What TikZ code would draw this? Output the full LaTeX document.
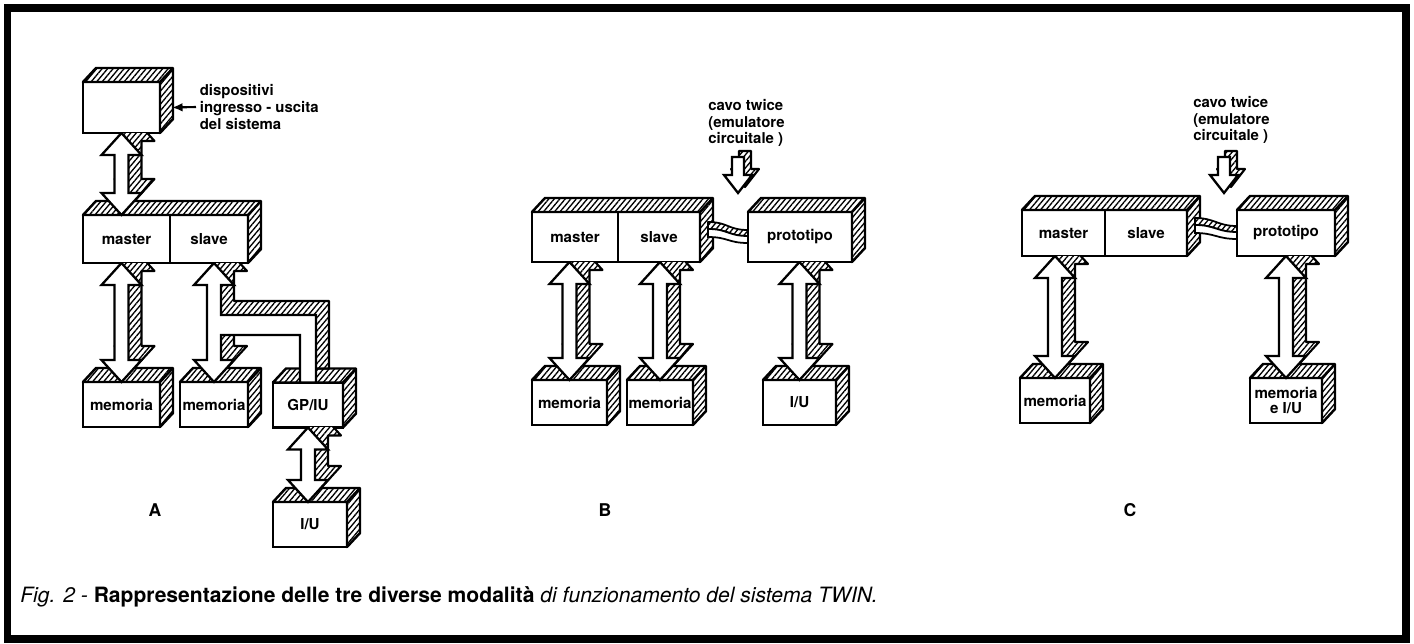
\documentclass[tikz,border=0pt]{standalone}
\usepackage{fontspec}
\setmainfont{TeX Gyre Heros}
\usepackage{tikz}
\usetikzlibrary{positioning,calc,arrows.meta,patterns.meta}

\newcommand{\boxfont}{\fontsize{8.6}{10}\selectfont\bfseries}
\newcommand{\notefont}{\fontsize{8.5}{9.6}\selectfont\bfseries}

% hollow double arrow with hatched depth, top tip #1, bottom tip #2
\newcommand{\bigarrow}[2]{%
  \begin{scope}
    \clip ($(#1)+(-40,0)$) rectangle ($(#2)+(45,10)$);
    \filldraw[hatch] ($(#1)+(13,-14)$) -- ++(20,22) -- ++(-13,0) -- ($(#2)+(20,-36)$) -- ++(13,0) -- ($(#2)+(13,-14)$) -- ++(-20,-22) -- ++(13,0) -- ($(#1)+(6,8)$) -- ++(-13,0) -- cycle;
    \filldraw[hollow] (#1) -- ++(20,22) -- ++(-13,0) -- ($(#2)+(7,-22)$) -- ++(13,0) -- (#2) -- ++(-20,-22) -- ++(13,0) -- ($(#1)+(-7,22)$) -- ++(-13,0) -- cycle;
  \end{scope}}

% top and side faces of a box made of nodes #1 .. #2
\newcommand{\faces}[2]{%
  \filldraw[hatch, line width=1.4pt] (#1.north west) -- ++(13,-14) -- ($(#2.north east)+(13,-14)$) -- ($(#2.south east)+(13,-14)$) -- (#2.south east) -- (#2.north east) -- cycle;
  \draw[edge] (#2.north east) -- ++(13,-14);}

% small arrow for the twice cable, #1 = top centre
\newcommand{\twicearrow}[1]{%
  \filldraw[hatch] ($(#1)+(1,-6)$) -- ++(12,0) -- ++(0,18) -- ++(8,0) -- ++(-14,18) -- ++(-14,-18) -- ++(8,0) -- cycle;
  \filldraw[hollow] ($(#1)+(-6,0)$) -- ++(12,0) -- ++(0,18) -- ++(8,0) -- ++(-14,18) -- ++(-14,-18) -- ++(8,0) -- cycle;}

% flat cable from node #1 (side face) to node #2
\newcommand{\cable}[2]{%
  \filldraw[hatch, line width=1pt] ($(#1.east)+(8,-15)$) .. controls +(20,0) and +(-20,0) .. ($(#2.west)+(0,-7)$) -- ++(0,6) .. controls +(-20,0) and +(20,0) .. ($(#1.east)+(8,-8)$) -- cycle;
  \filldraw[hollow, line width=1pt] ($(#1.east)+(8,-8)$) .. controls +(20,0) and +(-20,0) .. ($(#2.west)+(0,-1)$) -- ++(0,7) .. controls +(-20,0) and +(20,0) .. ($(#1.east)+(8,0)$) -- cycle;}

\begin{document}
\begin{tikzpicture}[x=0.02cm, y=-0.02cm, >=Stealth,
  box/.style={draw, line width=1.4pt, fill=white, inner sep=0pt, outer sep=0pt, font=\boxfont},
  bw/.style={minimum width=#1*0.02cm},
  bh/.style={minimum height=#1*0.02cm},
  hatch/.style={draw, line width=1.2pt, line join=round, preaction={fill=white}, pattern={Lines[angle=50,distance=2.4pt,line width=0.75pt]}},
  hollow/.style={draw, line width=1.3pt, fill=white, line join=miter},
  edge/.style={line width=1.4pt},
  note/.style={font=\notefont, align=left, inner sep=2pt},
  panel/.style={font=\fontsize{10}{12}\selectfont\bfseries}]

\useasboundingbox (0,0) rectangle (1414,643);

% Frame
\draw[line width=0.16cm] (7.5,8) rectangle (1406,638.5);

% Panel A: boxes
\node[box, bw=77, bh=51] (iodev) at (121.5,107.5) {};
\node[box, bw=87, bh=48] (masterA) at (126.5,239) {master};
\node[box, bw=78, bh=48] (slaveA) at (209,239) {slave};
\node[box, bw=77, bh=45] (memA1) at (121.5,404.5) {memoria};
\node[box, bw=68, bh=45] (memA2) at (214,404.5) {memoria};
\node[box, bw=70, bh=45] (gpiu) at (308,405) {GP/IU};
\node[box, bw=74, bh=45] (iuA) at (310,524.5) {I/U};
\faces{iodev}{iodev}
\faces{masterA}{slaveA}
\faces{memA1}{memA1}
\faces{memA2}{memA2}
\faces{gpiu}{gpiu}
\faces{iuA}{iuA}

% Panel A: buses
\bigarrow{iodev.south}{iodev.south |- masterA.north}
\bigarrow{memA1.north |- masterA.south}{memA1.north}
\bigarrow{gpiu.south}{gpiu.south |- iuA.north}
\coordinate (sT) at (memA2.north |- slaveA.south);
\begin{scope}
  \clip ($(sT)+(-40,0)$) rectangle ($(gpiu.north)+(45,30)$);
  \filldraw[hatch] ($(sT)+(13,-14)$) -- ++(20,22) -- ++(-13,0) -- ($(sT)+(20,38)$) -- ($(gpiu.north |- sT)+(21,38)$) -- ($(gpiu.north)+(21,-14)$) -- ($(gpiu.north)+(5,-14)$) -- ($(gpiu.north |- sT)+(5,58)$) -- ($(sT)+(20,58)$) -- ($(memA2.north)+(20,-36)$) -- ++(13,0) -- ($(memA2.north)+(13,-14)$) -- ++(-20,-22) -- ++(13,0) -- ($(sT)+(6,8)$) -- ++(-13,0) -- cycle;
  \filldraw[hollow] (sT) -- ++(20,22) -- ++(-13,0) -- ($(sT)+(7,52)$) -- ($(gpiu.north |- sT)+(8,52)$) -- ($(gpiu.north)+(8,0)$) -- ($(gpiu.north)+(-8,0)$) -- ($(gpiu.north |- sT)+(-8,72)$) -- ($(sT)+(7,72)$) -- ($(memA2.north)+(7,-22)$) -- ++(13,0) -- (memA2.north) -- ++(-20,-22) -- ++(13,0) -- ($(sT)+(-7,22)$) -- ++(-13,0) -- cycle;
\end{scope}

% Panel A: labels
\node[note, anchor=west] (iotext) at (196,107) {dispositivi\\ingresso - uscita\\del sistema};
\draw[-{Latex[length=6pt,width=5pt]}, line width=1.2pt] (iotext.west) -- ($(iodev.east)+(12,0)$);
\node[panel] (labA) at (155,510) {A};

% Panel B: boxes
\node[box, bw=86, bh=50] (masterB) at (575,237) {master};
\node[box, bw=82, bh=50] (slaveB) at (659,237) {slave};
\node[box, bw=104, bh=50] (protoB) at (800,237) {prototipo};
\node[box, bw=75, bh=45] (memB1) at (569.5,402.5) {memoria};
\node[box, bw=66, bh=45] (memB2) at (660,402.5) {memoria};
\node[box, bw=73, bh=45] (iuB) at (799.5,402.5) {I/U};
\faces{masterB}{slaveB}
\faces{protoB}{protoB}
\faces{memB1}{memB1}
\faces{memB2}{memB2}
\faces{iuB}{iuB}

% Panel B: buses and cable
\bigarrow{memB1.north |- masterB.south}{memB1.north}
\bigarrow{memB2.north |- slaveB.south}{memB2.north}
\bigarrow{iuB.north |- protoB.south}{iuB.north}
\cable{slaveB}{protoB}
\coordinate (twB) at (738,157);
\twicearrow{twB}
\node[note, anchor=west, inner sep=0pt] (cavoB) at (708,123) {cavo twice\\(emulatore\\circuitale )};
\node[panel] (labB) at (605,510) {B};

% Panel C: boxes
\node[box, bw=83, bh=46] (masterC) at (1063.5,233) {master};
\node[box, bw=82, bh=46] (slaveC) at (1146,233) {slave};
\node[box, bw=98, bh=46] (protoC) at (1286,233) {prototipo};
\node[box, bw=70, bh=45] (memC1) at (1055,400.5) {memoria};
\node[box, bw=72, bh=45, align=center, font=\fontsize{8.6}{8.6}\selectfont\bfseries] (memC2) at (1286,400.5) {memoria\\e I/U};
\faces{masterC}{slaveC}
\faces{protoC}{protoC}
\faces{memC1}{memC1}
\faces{memC2}{memC2}

% Panel C: buses and cable
\bigarrow{memC1.north |- masterC.south}{memC1.north}
\bigarrow{memC2.north |- protoC.south}{memC2.north}
\cable{slaveC}{protoC}
\coordinate (twC) at (1224,157);
\twicearrow{twC}
\node[note, anchor=west, inner sep=0pt] (cavoC) at (1193,120) {cavo twice\\(emulatore\\circuitale )};
\node[panel] (labC) at (1130,510) {C};

% Caption
\node[anchor=west, inner sep=0pt, font=\fontsize{12}{14}\selectfont] (caption) at (20,597)
  {\itshape Fig. 2 - \upshape\bfseries Rappresentazione delle tre diverse modalità \mdseries\itshape di funzionamento del sistema TWIN.};

\end{tikzpicture}
\end{document}
